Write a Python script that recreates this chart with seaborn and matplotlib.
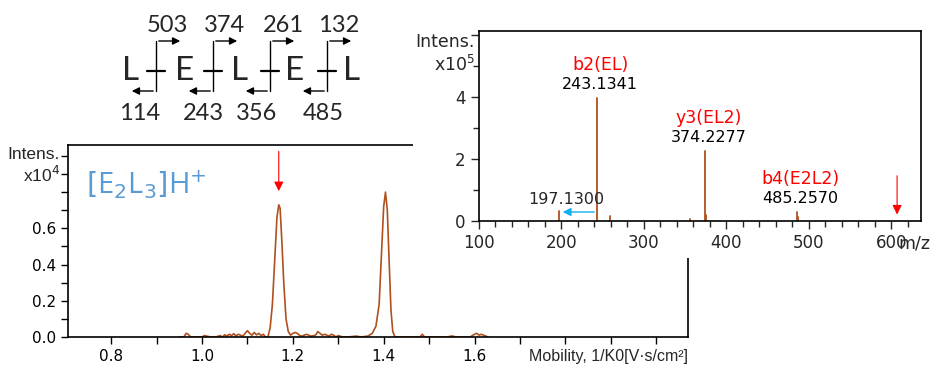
import matplotlib
matplotlib.use("Agg")
import matplotlib.pyplot as plt
import matplotlib.ticker as mticker
from matplotlib.patches import Rectangle
import numpy as np
import pandas as pd
import seaborn as sns

# mobilogram of [E2L3]H+ (intensity x10^4)
mobility = [0.950, 0.960, 0.965, 0.970, 0.975, 0.990, 1.000, 1.005, 1.010, 1.020,
            1.030, 1.040, 1.045, 1.050, 1.055, 1.060, 1.065, 1.070, 1.075, 1.080,
            1.085, 1.090, 1.095, 1.100, 1.105, 1.110, 1.115, 1.120, 1.125, 1.130,
            1.135, 1.140, 1.145, 1.150, 1.155, 1.160, 1.165, 1.169, 1.172, 1.176,
            1.180, 1.185, 1.190, 1.195, 1.200, 1.205, 1.210, 1.215, 1.220, 1.230,
            1.240, 1.250, 1.255, 1.260, 1.265, 1.270, 1.280, 1.285, 1.290, 1.295,
            1.300, 1.310, 1.320, 1.340, 1.350, 1.365, 1.375, 1.383, 1.390, 1.395,
            1.400, 1.404, 1.408, 1.412, 1.416, 1.420, 1.425, 1.440, 1.480, 1.485,
            1.490, 1.500, 1.540, 1.550, 1.560, 1.590, 1.600, 1.605, 1.610, 1.615,
            1.630]
intensity = [0.000, 0.000, 0.020, 0.015, 0.000, 0.000, 0.000, 0.008, 0.005, 0.000,
             0.000, 0.008, 0.000, 0.012, 0.005, 0.015, 0.008, 0.018, 0.006, 0.015,
             0.010, 0.005, 0.020, 0.035, 0.020, 0.010, 0.025, 0.012, 0.020, 0.008,
             0.015, 0.000, 0.000, 0.050, 0.180, 0.420, 0.660, 0.730, 0.710, 0.520,
             0.300, 0.100, 0.030, 0.010, 0.020, 0.025, 0.020, 0.008, 0.005, 0.015,
             0.005, 0.010, 0.030, 0.020, 0.010, 0.015, 0.005, 0.015, 0.010, 0.000,
             0.008, 0.000, 0.000, 0.005, 0.000, 0.005, 0.020, 0.060, 0.180, 0.450,
             0.720, 0.800, 0.700, 0.420, 0.150, 0.030, 0.000, 0.000, 0.000, 0.015,
             0.000, 0.000, 0.000, 0.006, 0.000, 0.000, 0.015, 0.020, 0.010, 0.015,
             0.000]
precursor_mobility = 1.169

# MS/MS spectrum (intensity x10^5)
mz = [197.1300, 243.1341, 259.1, 356.2, 374.2277, 375.2, 485.2570, 486.3]
ms_intensity = [0.33, 3.97, 0.16, 0.06, 2.26, 0.20, 0.30, 0.12]
ion_names = ["b2(EL)", "y3(EL2)", "b4(E2L2)"]
ion_mz = [243.1341, 374.2277, 485.2570]
ion_top = [3.97, 2.26, 0.30]
loss_mz = 197.1300
precursor_mz = 607

# fragmentation scheme
residues = ["L", "E", "L", "E", "L"]
y_ions = [503, 374, 261, 132]
b_ions = [114, 243, 356, 485]

sns.set_style("ticks")
plt.rcParams["font.family"] = ["DejaVu Sans"]
lib = ["Liberation Sans", "DejaVu Sans"]

trace_col = "#b0501e"
fig = plt.figure(figsize=(9.31, 3.69), dpi=100)

# ---- main mobilogram
ax = fig.add_axes([68 / 931, 32 / 369, 620 / 931, 192 / 369], zorder=0)
df = pd.DataFrame({"mobility": mobility, "intensity": intensity})
sns.lineplot(data=df, x="mobility", y="intensity", ax=ax, color=trace_col, lw=1.2)
ax.set_xlim(0.705, 2.07)
ax.set_ylim(0, 1.06)
ax.set_xticks(np.arange(0.8, 2.05, 0.1))
ax.set_yticks(np.arange(0.0, 1.05, 0.1))
ax.xaxis.set_major_formatter(mticker.FuncFormatter(
    lambda v, p: f"{v:.1f}" if round(v * 10) % 2 == 0 and v < 1.7 else ""))
ax.yaxis.set_major_formatter(mticker.FuncFormatter(
    lambda v, p: f"{v:.1f}" if round(v * 10) % 2 == 0 and v < 0.7 else ""))
ax.tick_params(direction="out", length=5, width=1, labelsize=11, colors="black")
for s in ax.spines.values():
    s.set_visible(True)
    s.set_color("black")
    s.set_linewidth(1.2)
ax.set_xlabel("")
ax.set_ylabel("")
ax.text(1.0, -0.10, "Mobility, 1/K0[V·s/cm²]", transform=ax.transAxes,
        ha="right", va="center", fontsize=11.5, family=lib)
ax.text(-0.013, 0.948, "Intens.", transform=ax.transAxes, ha="right", va="center",
        fontsize=12.5, family=lib)
ax.text(-0.013, 0.845, r"x10$^{4}$", transform=ax.transAxes, ha="right", va="center",
        fontsize=12.5, family=lib)
ax.text(0.029, 0.79, r"$[\mathregular{E}_2\mathregular{L}_3]\mathregular{H}^{+}$",
        transform=ax.transAxes, ha="left", va="center", fontsize=21,
        color="#5b9bd5", family=["Open Sans", "DejaVu Sans"])
ax.annotate("", xy=(precursor_mobility, 0.79), xytext=(precursor_mobility, 1.04),
            arrowprops=dict(arrowstyle="-|>", color="red", lw=0.8, mutation_scale=14))

# white backdrop behind inset
fig.patches.append(Rectangle((413 / 931, 111 / 369), 1, 1, transform=fig.transFigure,
                             facecolor="white", edgecolor="none", zorder=0.5))

# ---- inset MS/MS spectrum
ins = fig.add_axes([479 / 931, 148 / 369, 442 / 931, 190 / 369], zorder=1)
stems = pd.DataFrame({
    "mz": [m for m in mz for _ in range(2)],
    "inten": [v for h in ms_intensity for v in (0, h)],
    "peak": [i for i in range(len(mz)) for _ in range(2)],
})
sns.lineplot(data=stems, x="mz", y="inten", units="peak", estimator=None, sort=False,
             ax=ins, color=trace_col, lw=1.3)
ins.set_xlim(100, 636)
ins.set_ylim(0, 6.13)
ins.xaxis.set_major_locator(mticker.MultipleLocator(100))
ins.xaxis.set_minor_locator(mticker.MultipleLocator(20))
ins.yaxis.set_major_locator(mticker.MultipleLocator(2))
ins.yaxis.set_minor_locator(mticker.MultipleLocator(1))
ins.yaxis.set_major_formatter(mticker.FuncFormatter(
    lambda v, p: f"{v:.0f}" if v < 5 else ""))
ins.tick_params(which="major", direction="out", length=6, width=1, labelsize=12)
ins.tick_params(which="minor", direction="out", length=4, width=1)
for s in ins.spines.values():
    s.set_visible(True)
    s.set_color("black")
    s.set_linewidth(1.2)
ins.set_xlabel("")
ins.set_ylabel("")
ins.text(-0.009, 0.942, "Intens.", transform=ins.transAxes, ha="right", va="center", fontsize=12.5)
ins.text(-0.009, 0.82, r"x10$^{5}$", transform=ins.transAxes, ha="right", va="center", fontsize=12.5)
ins.text(0.985, -0.12, "m/z", transform=ins.transAxes, ha="center", va="center", fontsize=12.5)
for name, m, top in zip(ion_names, ion_mz, ion_top):
    ins.text(m + 4, top + 1.05, name, color="red", ha="center", va="center", fontsize=12.5)
    ins.text(m + 4, top + 0.42, f"{m:.4f}", color="black", ha="center", va="center", fontsize=11.5)
ins.text(loss_mz + 9, 0.68, f"{loss_mz:.4f}", ha="center", va="center", fontsize=11.5)
ins.annotate("", xy=(loss_mz + 1, 0.29), xytext=(ion_mz[0], 0.29),
             arrowprops=dict(arrowstyle="-|>", color="#10b0f0", lw=1.0, mutation_scale=12))
ins.annotate("", xy=(precursor_mz, 0.12), xytext=(precursor_mz, 1.55),
             arrowprops=dict(arrowstyle="-|>", color="red", lw=0.8, mutation_scale=14))

# ---- fragmentation scheme (pixel layout)
sc = fig.add_axes([0, 0, 1, 1], zorder=2)
sc.set_xlim(0, 931)
sc.set_ylim(369, 0)
sc.axis("off")
sc.patch.set_alpha(0)
res_x = [131, 185, 240, 295, 352]
cut_x = [156, 213, 270, 327]
top_x = [167, 224, 283, 339]
bot_x = [140, 203, 257, 323]
sfont = ["Lato", "DejaVu Sans"]
for r, x in zip(residues, res_x):
    sc.text(x, 71, r, ha="center", va="center", fontsize=24, family=sfont)
for i, x in enumerate(cut_x):
    sc.plot([x - 9, x + 9], [71, 71], color="black", lw=1.6)
    sc.plot([x, x], [41, 91], color="black", lw=1.0)
    sc.annotate("", xy=(x + 27, 41), xytext=(x, 41),
                arrowprops=dict(arrowstyle="-|>", color="black", lw=1.0, mutation_scale=11))
    sc.annotate("", xy=(x - 27, 91), xytext=(x, 91),
                arrowprops=dict(arrowstyle="-|>", color="black", lw=1.0, mutation_scale=11))
    sc.text(top_x[i], 26, str(y_ions[i]), ha="center", va="center", fontsize=17, family=sfont)
    sc.text(bot_x[i], 113, str(b_ions[i]), ha="center", va="center", fontsize=17, family=sfont)

fig.savefig("out.png", dpi=100)
